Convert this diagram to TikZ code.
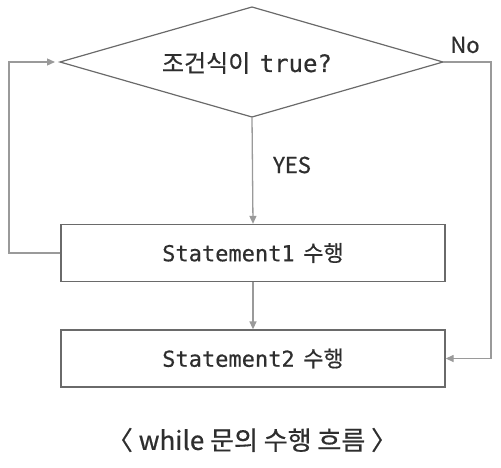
\documentclass[tikz,border=0pt]{standalone}
\usepackage{fontspec}
\setmainfont{Noto Sans CJK KR}[FakeBold=0.6]
\newfontfamily\monof{DejaVu Sans Mono}[FakeBold=0.5]
\usetikzlibrary{arrows.meta}
\definecolor{ln}{HTML}{9A9A9A}
\definecolor{bd}{HTML}{6A6A6A}
\definecolor{tx}{HTML}{2E2E2E}
\begin{document}
\begin{tikzpicture}[x=1pt,y=-1pt,
  boxst/.style={draw=bd,line width=1.3pt,minimum width=384pt,minimum height=57pt,inner sep=0pt,text=tx,font=\fontsize{22}{24}\selectfont},
  shapest/.style={draw=bd,line width=1.2pt,line join=miter},
  conn/.style={draw=ln,line width=1.3pt,-{Triangle[width=7pt,length=8pt]}},
  lbl/.style={text=tx,font=\fontsize{22}{24}\selectfont,inner sep=0pt}]
\useasboundingbox (0,0) rectangle (501,467);
\coordinate (dt) at (252,7);
\coordinate (dl) at (60,62);
\coordinate (dr) at (443,62);
\coordinate (db) at (252,117);
\draw[shapest] (dt) -- (dr) -- (db) -- (dl) -- cycle;
\node[text=tx,font=\fontsize{24}{26}\selectfont,inner sep=0pt] (d) at (247,63) {조건식이 \,{\monof true?}};
\node[boxst] (s1) at (253,253) {{\monof Statement1} \,수행};
\node[boxst] (s2) at (253,358.5) {{\monof Statement2} \,수행};
\coordinate (l1) at (9,253);
\coordinate (l2) at (9,62);
\coordinate (r1) at (491,62);
\coordinate (r2) at (491,358.5);
\draw[conn] (db) -- (s1.north);
\draw[conn] (s1.south) -- (s2.north);
\draw[conn] (s1.west) -- (l1) -- (l2) -- ([xshift=-5pt]dl);
\draw[conn] (dr) -- (r1) -- (r2) -- (s2.east);
\node[lbl] (yes) at (292,165) {YES};
\node[lbl] (no) at (465,45) {No};
\node[text=tx,font=\fontsize{26}{28}\selectfont,inner sep=0pt] (cap) at (252,440) {〈 while 문의 수행 흐름 〉};
\end{tikzpicture}
\end{document}
